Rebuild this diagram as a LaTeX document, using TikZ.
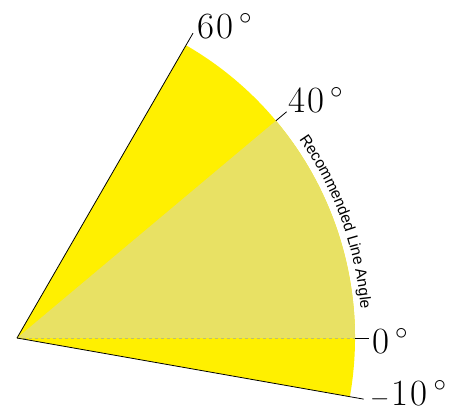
\documentclass[tikz,border=0pt]{standalone}
\usepackage{fontspec}
\setsansfont{Liberation Sans}
\usetikzlibrary{calc, decorations.text}
\definecolor{sunyellow}{RGB}{255, 240, 0}
\definecolor{paleyellow}{RGB}{232, 225, 100}
\newcommand{\degmark}{\hspace{6pt}\raisebox{14pt}{\fontsize{26}{26}\selectfont$\circ$}}

\begin{document}
\begin{tikzpicture}[x=1pt, y=1pt,
  tick/.style={black, line width=0.8pt},
  anglelabel/.style={inner sep=0pt, anchor=base west, font=\fontsize{37}{40}\selectfont}]
  \useasboundingbox (0,0) rectangle (465,412);
  \coordinate (O) at (17,74);

  % sectors
  \fill[sunyellow] (O) -- ++(-10:338pt) arc[start angle=-10, end angle=60, radius=338pt] -- cycle;
  \fill[paleyellow] (O) -- ++(0:338pt) arc[start angle=0, end angle=40, radius=338pt] -- cycle;
  \draw[yellow!45!gray, line width=0.4pt, dashed] (O) -- ($(O)+(0:338pt)$);

  % boundary lines and ticks
  \draw[tick] (O) -- ($(O)+(60:352pt)$) coordinate (t60);
  \draw[tick] (O) -- ($(O)+(-10:352pt)$) coordinate (tm10);
  \draw[tick] ($(O)+(40:338pt)$) -- ($(O)+(40:352pt)$) coordinate (t40);
  \draw[tick] ($(O)+(0:338pt)$) -- ($(O)+(0:352pt)$) coordinate (t0);

  \node[anglelabel] (l60) at (197,373) {6\kern2pt0\degmark};
  \node[anglelabel] (l40) at (288,299) {4\kern2pt0\degmark};
  \node[anglelabel] (l0) at (372,59) {0\degmark};
  \node[anglelabel] (lm10) at (370,7) {$-$\kern2pt1\kern2pt0\degmark};

  \path[decorate, decoration={text along path, text align=center,
    text={|\sffamily\fontsize{15.5}{16}\selectfont|Recommended Line Angle}}]
    ($(O)+(37:345pt)$) arc[start angle=37, end angle=3, radius=345pt];
\end{tikzpicture}
\end{document}
